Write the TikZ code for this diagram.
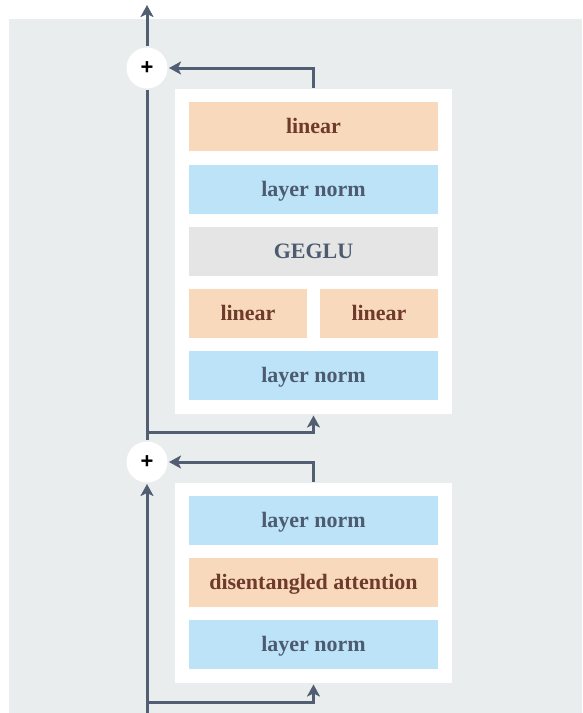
\documentclass[tikz,border=0pt]{standalone}
\usepackage{fontspec}
\setmainfont{Liberation Serif}
\setsansfont{Liberation Sans}
\usepackage{tikz}
\usetikzlibrary{arrows.meta, positioning}

\definecolor{bggray}{HTML}{E9EDEE}
\definecolor{wire}{HTML}{525E72}
\definecolor{linfill}{HTML}{F9D9BB}
\definecolor{lintext}{HTML}{6E3A2B}
\definecolor{normfill}{HTML}{BCE3F7}
\definecolor{normtext}{HTML}{4D5B70}
\definecolor{glufill}{HTML}{E5E5E5}

\tikzset{
  layerbox/.style={minimum width=249pt, minimum height=49pt, inner sep=0pt,
    text height=14pt, text depth=0pt,
    font=\fontsize{22}{24}\selectfont\bfseries},
  linbox/.style={layerbox, fill=linfill, text=lintext},
  normbox/.style={layerbox, fill=normfill, text=normtext},
  glubox/.style={layerbox, fill=glufill, text=normtext},
  blockbox/.style={fill=white, minimum width=277pt, inner sep=0pt},
  addnode/.style={circle, fill=white, minimum size=41pt, inner sep=0pt,
    font=\fontsize{22}{22}\selectfont\sffamily\bfseries},
  arr/.style={-{Stealth[length=12pt, width=13pt, inset=3pt]}},
}

\begin{document}
\begin{tikzpicture}[x=1pt, y=-1pt, line width=3pt, draw=wire]
\useasboundingbox (0,0) rectangle (582,713);
% Background
\fill[bggray] (9,19) rectangle (582,713);

% Feed-forward block
\node[blockbox, minimum height=325pt] (ffblock) at (313.5,251.5) {};
\node[linbox] (linout) at (313.5,126.5) {linear};
\node[normbox] (ffnorm2) at (313.5,189.5) {layer norm};
\node[glubox] (geglu) at (313.5,251.5) {GEGLU};
\node[linbox, minimum width=118pt] (linleft) at (248,313.5) {linear};
\node[linbox, minimum width=118pt] (linright) at (379,313.5) {linear};
\node[normbox] (ffnorm1) at (313.5,375.5) {layer norm};

% Attention block
\node[blockbox, minimum height=200pt] (attnblock) at (313.5,583) {};
\node[normbox] (attnnorm2) at (313.5,520.5) {layer norm};
\node[linbox] (attn) at (313.5,582.5) {disentangled attention};
\node[normbox] (attnnorm1) at (313.5,644.5) {layer norm};

% Residual additions
\node[addnode] (add1) at (147,68) {+};
\node[addnode] (add2) at (147,462) {+};

% Connectors
\coordinate (input) at (147,713);
\coordinate (split1) at (147,702);
\coordinate (split2) at (147,432);
\coordinate (output) at (147,5);
\draw[arr] (input) -- (add2.south);
\draw[arr] (split1) -| (attnblock.south);
\draw[arr] (attnblock.north) |- (add2.east);
\draw (add2.north) -- (add1.south);
\draw[arr] (split2) -| (ffblock.south);
\draw[arr] (ffblock.north) |- (add1.east);
\draw[arr] (add1.north) -- (output);
\end{tikzpicture}
\end{document}
